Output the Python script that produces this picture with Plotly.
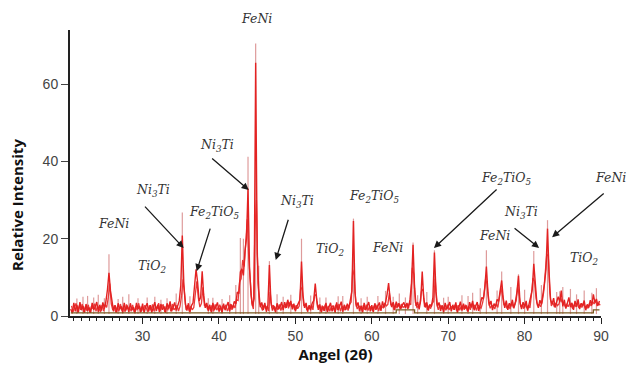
import plotly.graph_objects as go

# ---------------- data ----------------
angle_start = 20.6
angle_step = 0.2
intensity = [
    1.8, 0.7, 3.4, 1.2, 2.9, 0.9, 3.6, 1.5, 2.6, 0.8,
    3.1, 1.3, 2.2, 0.8, 3.4, 1.6, 2.4, 3.6, 1.1, 2.9,
    1.4, 3.5, 1.9, 3.8, 6.8, 11.2, 6.5, 3.2, 1.2, 2.8,
    0.9, 3.3, 1.7, 2.5, 0.8, 3.4, 1.4, 2.7, 1.0, 3.3,
    1.5, 2.3, 0.7, 3.4, 1.8, 2.6, 1.1, 3.2, 0.8, 2.4,
    3.3, 1.2, 2.8, 0.9, 2.2, 3.6, 1.3, 2.9, 1.0, 3.1,
    1.6, 2.5, 0.8, 3.3, 1.9, 3.8, 1.2, 2.6, 3.5, 1.4,
    2.8, 3.9, 7.9, 20.8, 8.2, 3.1, 1.4, 3.3, 1.0, 2.7,
    3.4, 8.1, 12.1, 8.8, 3.9, 4.8, 11.6, 5.2, 2.1, 3.4,
    1.3, 2.9, 0.9, 3.4, 1.6, 2.4, 3.5, 1.1, 2.6, 0.8,
    3.2, 1.5, 2.7, 3.6, 1.2, 3.0, 2.0, 3.8, 3.1, 6.2,
    5.8, 11.4, 12.2, 10.5, 16.8, 20.1, 33.0, 12.3, 5.4, 2.6,
    4.5, 65.5, 16.2, 6.8, 2.3, 3.5, 1.6, 3.4, 1.1, 2.8,
    13.2, 3.5, 1.4, 2.6, 0.9, 3.3, 1.8, 2.4, 3.6, 1.5,
    3.6, 2.1, 4.2, 2.5, 3.9, 1.7, 3.2, 1.2, 2.5, 3.5,
    4.2, 14.1, 5.3, 2.1, 3.4, 1.1, 2.8, 1.5, 3.3, 4.0,
    8.4, 4.1, 1.6, 3.0, 0.9, 2.5, 1.3, 3.4, 1.0, 2.3,
    3.4, 1.2, 2.7, 0.8, 3.5, 1.5, 2.4, 3.7, 1.1, 2.9,
    1.6, 3.2, 2.0, 4.2, 6.5, 24.6, 6.1, 2.4, 3.5, 1.2,
    2.7, 0.9, 3.4, 1.5, 2.6, 3.6, 1.2, 2.8, 1.0, 3.3,
    1.7, 2.4, 3.5, 1.3, 3.8, 2.2, 3.5, 5.6, 8.5, 4.4,
    2.3, 3.6, 1.5, 3.7, 2.4, 3.2, 1.8, 2.9, 3.5, 2.1,
    3.4, 2.0, 4.3, 8.6, 18.4, 7.2, 2.6, 3.6, 1.7, 4.0,
    11.5, 4.6, 2.2, 3.5, 1.4, 3.0, 2.4, 4.8, 16.4, 6.3,
    2.5, 3.5, 1.3, 2.8, 0.9, 3.4, 1.8, 2.5, 3.6, 1.2,
    2.9, 1.6, 3.5, 0.8, 2.6, 3.7, 1.4, 3.2, 1.9, 2.7,
    1.1, 3.6, 2.2, 3.9, 1.5, 2.9, 3.6, 1.3, 3.1, 4.8,
    4.4, 7.6, 12.8, 6.1, 2.7, 3.9, 1.5, 3.2, 2.4, 4.3,
    3.8, 6.3, 9.2, 4.7, 2.1, 4.0, 1.6, 3.3, 2.5, 4.2,
    2.0, 3.7, 6.2, 10.4, 3.5, 1.8, 3.6, 2.2, 3.9, 1.4,
    3.2, 4.5, 6.8, 13.5, 7.4, 3.6, 2.1, 4.1, 3.0, 5.4,
    8.3, 12.1, 22.6, 11.4, 4.2, 3.1, 4.6, 2.2, 3.9, 5.0,
    3.6, 6.6, 2.5, 4.2, 1.9, 3.7, 4.8, 2.3, 3.4, 1.6,
    3.9, 2.4, 4.3, 1.8, 3.3, 2.6, 4.0, 1.5, 3.0, 2.2,
    4.1, 2.8, 5.6, 3.5, 4.4, 2.7, 3.9,
]
angle = [round(angle_start + angle_step * i, 1) for i in range(len(intensity))]

# second (interleaved) noise record of the baseline, offset by 0.1 deg
noise2_start = 20.7
noise2 = [
    2.6, 1.1, 2.2, 3.3, 0.9, 2.7, 1.6, 3.1, 1.0, 2.4,
    1.4, 2.9, 0.8, 2.5, 1.9, 3.2, 1.2, 2.6, 2.0, 1.0,
    2.8, 1.3, 3.0, 2.2, 4.6, 8.4, 3.1, 1.5, 2.7, 0.9,
    2.4, 1.2, 3.1, 1.4, 2.6, 1.1, 3.0, 1.7, 2.3, 1.2,
    2.9, 1.0, 2.5, 1.5, 3.3, 0.9, 2.4, 1.3, 2.8, 1.8,
    1.1, 2.7, 1.5, 3.0, 1.2, 2.5, 1.9, 3.3, 1.4, 2.2,
    3.0, 1.1, 2.6, 1.5, 2.9, 1.2, 3.1, 1.6, 2.0, 2.8,
    1.3, 2.5, 5.2, 9.5, 4.3, 1.6, 2.8, 1.2, 2.5, 1.6,
    2.2, 5.5, 9.0, 4.6, 2.3, 3.2, 7.4, 2.6, 3.1, 1.7,
    2.6, 1.4, 2.8, 1.2, 3.0, 1.5, 2.2, 2.9, 1.4, 2.7,
    1.8, 2.9, 1.3, 2.4, 3.1, 1.6, 2.8, 2.1, 4.2, 4.0,
    8.8, 9.6, 14.5, 12.8, 18.5, 25.0, 15.0, 7.6, 3.2, 1.8,
    22.0, 30.0, 8.5, 3.4, 2.1, 1.4, 2.9, 1.8, 2.6, 1.3,
    6.2, 2.2, 2.8, 1.5, 2.4, 1.6, 3.0, 1.4, 2.7, 2.6,
    2.2, 3.5, 2.0, 3.6, 2.4, 3.0, 1.6, 2.8, 1.9, 2.6,
    7.5, 6.8, 2.6, 3.0, 1.5, 2.4, 1.8, 2.9, 1.6, 5.2,
    5.6, 2.2, 2.8, 1.3, 2.7, 1.4, 2.9, 1.5, 2.6, 1.2,
    2.4, 2.6, 1.4, 2.9, 1.6, 3.1, 1.2, 2.5, 2.2, 1.5,
    2.8, 1.4, 3.0, 3.6, 12.0, 10.5, 3.2, 1.8, 2.6, 2.2,
    1.5, 2.8, 1.6, 2.9, 1.4, 2.5, 2.2, 1.3, 2.7, 1.6,
    2.9, 1.3, 2.6, 2.5, 2.1, 3.4, 2.6, 3.0, 6.0, 2.8,
    3.1, 1.6, 3.2, 2.0, 3.3, 1.9, 3.1, 2.2, 2.5, 3.0,
    1.8, 3.3, 2.9, 12.5, 10.8, 3.6, 2.2, 2.5, 3.2, 6.4,
    7.0, 2.4, 3.4, 1.6, 2.7, 1.9, 3.2, 3.8, 9.6, 3.1,
    1.6, 2.9, 2.1, 1.8, 2.6, 1.5, 2.9, 1.6, 2.3, 2.4,
    1.7, 2.9, 1.4, 2.8, 1.5, 2.4, 2.6, 1.6, 2.9, 1.3,
    2.6, 1.6, 3.2, 1.9, 2.9, 1.4, 2.8, 2.3, 2.0, 3.4,
    5.4, 9.6, 8.2, 3.4, 2.0, 2.7, 2.6, 1.8, 3.2, 2.2,
    4.8, 7.2, 5.4, 2.8, 3.2, 1.9, 2.9, 1.8, 3.5, 2.4,
    2.8, 4.0, 7.8, 5.0, 2.4, 2.9, 1.9, 3.3, 2.0, 2.8,
    2.1, 5.6, 9.8, 9.0, 4.6, 2.6, 3.0, 2.4, 3.6, 6.2,
    10.2, 16.0, 15.5, 6.0, 2.6, 3.5, 2.3, 3.4, 2.7, 3.1,
    4.7, 3.6, 3.4, 2.5, 3.0, 2.4, 3.3, 2.7, 1.9, 3.0,
    2.5, 3.3, 2.1, 3.0, 2.2, 3.4, 2.2, 2.6, 2.0, 3.3,
    2.6, 3.8, 3.1, 4.0, 2.6, 3.2, 2.8,
]
angle2 = [round(noise2_start + angle_step * i, 1) for i in range(len(noise2))]

# lighter raw-count spikes visible behind the main trace
spike_angle = [25.6, 35.2, 42.8, 43.2, 43.8, 44.8, 45.2, 46.6, 50.8, 57.6, 65.4, 68.2,
               75.0, 77.0, 79.2, 81.2, 83.0, 85.0,
               21.4, 22.8, 23.6, 24.2, 27.4, 28.2, 29.4, 31.6, 33.2, 34.4, 36.2, 39.2,
               41.4, 42.2, 47.6, 49.4, 52.0, 54.0, 55.6, 59.4, 60.8, 61.8, 63.6, 67.2,
               70.0, 71.8, 73.2, 74.2, 76.4, 78.2, 80.0, 82.2, 84.2, 86.0, 87.8, 89.4,
               22.2, 25.0, 26.8, 30.6, 32.4, 38.6, 40.4, 48.4, 53.2, 56.2, 58.6, 62.8,
               64.4, 66.0, 69.4, 72.6, 84.6, 86.8, 88.8]
spike_height = [16.0, 26.8, 20.2, 20.0, 41.2, 70.5, 13.0, 14.2, 20.0, 25.2, 19.0, 17.0,
                17.0, 11.5, 10.8, 16.8, 24.8, 7.5,
                4.5, 5.2, 4.8, 5.5, 5.0, 5.6, 4.6, 5.0, 4.6, 5.8, 5.1, 4.7,
                5.4, 8.0, 5.6, 5.5, 5.3, 4.8, 5.1, 5.0, 5.2, 6.5, 5.8, 6.2,
                5.0, 5.4, 6.0, 7.2, 6.6, 7.5, 6.8, 8.0, 6.2, 7.0, 6.6, 7.2,
                5.0, 4.6, 4.4, 4.8, 4.2, 4.6, 4.4, 5.0, 4.8, 5.2, 4.6, 5.0,
                4.8, 5.4, 4.7, 5.2, 6.4, 5.6, 6.0]

# fitted background (step-like)
bg_angle = [20.6, 63.2, 63.2, 65.6, 65.6, 89.0, 89.0, 89.8]
bg_level = [0.8, 0.8, 1.6, 1.6, 0.8, 0.8, 1.6, 1.6]

# phase labels: (text, angle, intensity)
label_text = ["FeNi", "Ni<sub>3</sub>Ti", "FeNi", "TiO<sub>2</sub>", "Fe<sub>2</sub>TiO<sub>5</sub>",
              "Ni<sub>3</sub>Ti", "Ni<sub>3</sub>Ti", "TiO<sub>2</sub>", "Fe<sub>2</sub>TiO<sub>5</sub>",
              "FeNi", "Fe<sub>2</sub>TiO<sub>5</sub>", "FeNi", "Ni<sub>3</sub>Ti", "FeNi", "TiO<sub>2</sub>"]
label_angle = [44.9, 31.3, 26.2, 31.3, 39.4, 39.7, 50.2, 54.6, 60.3, 62.1, 77.6, 76.0, 79.5, 91.3, 87.9]
label_int = [77.0, 32.6, 24.0, 12.7, 26.8, 44.0, 29.6, 17.3, 30.8, 17.8, 35.5, 20.7, 26.8, 35.8, 15.0]

# arrows: head (angle, intensity) and tail (angle, intensity)
arrow_head_angle = [35.37, 37.08, 43.89, 47.43, 68.14, 81.9, 83.6]
arrow_head_int = [17.6, 11.6, 32.6, 14.5, 17.6, 17.6, 20.4]
arrow_tail_angle = [30.13, 38.91, 38.91, 49.13, 76.53, 78.49, 90.55]
arrow_tail_int = [28.7, 23.0, 41.1, 25.3, 33.1, 23.0, 32.0]

X_RANGE = [20.5, 90]
Y_RANGE = [0, 74]

# ---------------- figure ----------------
fig = go.Figure()

sx, sy = [], []
for a, h in zip(spike_angle, spike_height):
    sx += [a, a, None]
    sy += [0.5, h, None]
fig.add_trace(go.Scatter(x=sx, y=sy, mode="lines",
                         line=dict(color="rgba(214,130,130,0.8)", width=1.2),
                         hoverinfo="skip", showlegend=False))

fig.add_trace(go.Scatter(x=angle2, y=noise2, mode="lines",
                         line=dict(color="#ea3a3a", width=1.3),
                         hoverinfo="skip", showlegend=False))

fig.add_trace(go.Scatter(x=angle, y=intensity, mode="lines",
                         line=dict(color="#e32222", width=1.4),
                         showlegend=False))

fig.add_trace(go.Scatter(x=bg_angle, y=bg_level, mode="lines",
                         line=dict(color="#7a5a20", width=1.3),
                         hoverinfo="skip", showlegend=False))


def to_paper_x(a):
    return (a - X_RANGE[0]) / (X_RANGE[1] - X_RANGE[0])


def to_paper_y(v):
    return (v - Y_RANGE[0]) / (Y_RANGE[1] - Y_RANGE[0])


label_font = dict(family="DejaVu Serif", size=12.5, color="#333333", style="italic")
for t, a, v in zip(label_text, label_angle, label_int):
    fig.add_annotation(x=to_paper_x(a), y=to_paper_y(v), xref="paper", yref="paper",
                       text=t, showarrow=False, font=label_font,
                       xanchor="center", yanchor="middle")

for ha, hi, ta, ti in zip(arrow_head_angle, arrow_head_int, arrow_tail_angle, arrow_tail_int):
    fig.add_annotation(x=ha, y=hi, ax=ta, ay=ti, xref="x", yref="y", axref="x", ayref="y",
                       text="", showarrow=True, arrowhead=2, arrowsize=1.1,
                       arrowwidth=1.3, arrowcolor="#1a1a1a")

# y-axis title placed like the reference (shifted below the plot centre)
fig.add_annotation(x=(17 - 70) / 531, y=(316 - 205) / 286, xref="paper", yref="paper",
                   text="<b>Relative Intensity</b>", showarrow=False, textangle=-90,
                   xanchor="center", yanchor="middle",
                   font=dict(family="Open Sans", size=15, color="#111111"))

fig.update_layout(
    width=628, height=379,
    margin=dict(l=70, r=27, t=30, b=63, autoexpand=False),
    paper_bgcolor="white", plot_bgcolor="white",
    font=dict(family="Liberation Sans", size=14, color="#444444"),
)

fig.update_xaxes(range=X_RANGE, showline=True, linecolor="#222222", linewidth=2,
                 showgrid=False, zeroline=False, automargin=False,
                 tickmode="array", tickvals=[30, 40, 50, 60, 70, 80, 90],
                 ticks="outside", ticklen=6, tickwidth=1.3, tickcolor="#222222",
                 minor=dict(dtick=1, tick0=0, ticks="outside", ticklen=3, tickwidth=1,
                            tickcolor="#222222", showgrid=False),
                 tickfont=dict(size=14, color="#444444"),
                 title=dict(text="<b>Angel (2θ)</b>", standoff=4,
                            font=dict(family="Open Sans", size=15, color="#111111")))
fig.update_yaxes(range=Y_RANGE, showline=True, linecolor="#222222", linewidth=2,
                 showgrid=False, zeroline=False, automargin=False,
                 tickmode="array", tickvals=[0, 20, 40, 60],
                 ticks="outside", ticklen=7, tickwidth=1.2, tickcolor="#444444",
                 tickfont=dict(size=14, color="#444444"))

fig.write_html("out.html", config={"displayModeBar": False},
               post_script="document.body.style.margin='0';document.body.style.overflow='hidden';")
